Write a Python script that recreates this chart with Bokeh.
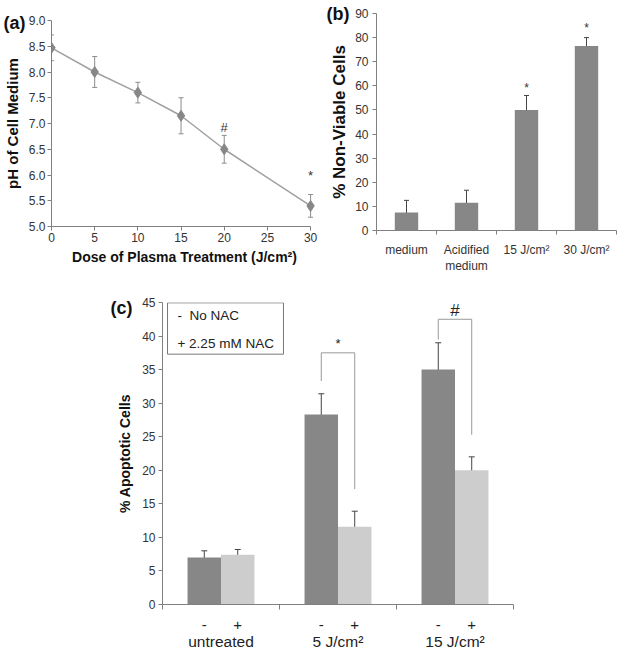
from bokeh.plotting import figure
from bokeh.layouts import column, row
from bokeh.models import (Range1d, FixedTicker, Whisker, ColumnDataSource, Label, Title,
                          BoxAnnotation, LinearAxis, TeeHead, NumeralTickFormatter)
from bokeh.embed import file_html
from bokeh.resources import INLINE

FONT = "Liberation Sans"
DARK = "#878787"
LIGHT = "#cdcdcd"
AXIS = "#808080"
TXT = "#333333"

# ---------------- data ----------------
# (a) pH vs dose
dose = [0, 5, 10, 15, 20, 30]
ph = [8.47, 8.0, 7.6, 7.15, 6.5, 5.4]
ph_err = [0.25, 0.3, 0.2, 0.35, 0.27, 0.22]
ph_mark_x = [20, 30]
ph_mark_y = [6.92, 6.0]
ph_mark_txt = ["#", "*"]
a_xticks = [0, 5, 10, 15, 20, 25, 30]
a_yticks = [5.0, 5.5, 6.0, 6.5, 7.0, 7.5, 8.0, 8.5, 9.0]

# (b) non-viable cells
b_cats = ["medium", "Acidified\nmedium", "15 J/cm²", "30 J/cm²"]
b_vals = [7.5, 11.5, 50.0, 76.5]
b_err = [5.0, 5.2, 6.0, 3.5]
b_mark_idx = [2, 3]
b_mark_y = [58.9, 83.8]
b_yticks = [0, 10, 20, 30, 40, 50, 60, 70, 80, 90]

# (c) apoptotic cells
c_groups = ["untreated", "5 J/cm²", "15 J/cm²"]
c_no_nac = [7.0, 28.3, 35.0]
c_no_nac_err = [1.0, 3.1, 4.0]
c_nac = [7.4, 11.6, 20.0]
c_nac_err = [0.8, 2.3, 2.0]
c_sig_idx = [1, 2]
c_sig_txt = ["*", "#"]
c_sig_txt_y = [38.9, 43.8]
c_br_top = [37.5, 42.5]
c_br_left_low = [33.3, 39.5]
c_br_right_low = [17.2, 25.3]
c_yticks = [0, 5, 10, 15, 20, 25, 30, 35, 40, 45]
c_legend = ["- \u00a0No NAC", "+ 2.25 mM NAC"]


def style(p):
    p.toolbar_location = None
    p.outline_line_color = None
    p.xgrid.grid_line_color = None
    p.ygrid.grid_line_color = None
    p.background_fill_color = "white"
    p.border_fill_color = "white"
    for ax in p.xaxis + p.yaxis:
        ax.axis_line_color = AXIS
        ax.major_tick_line_color = AXIS
        ax.minor_tick_line_color = AXIS
        ax.major_tick_in = 0
        ax.major_tick_out = 4
        ax.minor_tick_in = 0
        ax.minor_tick_out = 0
        ax.major_label_text_font = FONT
        ax.major_label_text_color = TXT
        ax.major_label_text_font_size = "12px"
        ax.axis_label_text_font = FONT
        ax.axis_label_text_font_style = "bold"
        ax.axis_label_text_color = "#111111"


def letter_title(txt, offset, standoff):
    return Title(text=txt, align="left", offset=offset, standoff=standoff,
                 text_font=FONT, text_font_style="bold", text_font_size="18px",
                 text_color="#111111")


# ---------------- panel (a) ----------------
pa = figure(width=320, height=290, output_backend="svg", toolbar_location=None,
            x_range=Range1d(0, 30.8), y_range=Range1d(5.0, 9.0),
            min_border_left=51, min_border_right=3, min_border_top=20, min_border_bottom=64)
style(pa)
pa.title = letter_title("(a)", -48, -25)
pa.xaxis.ticker = FixedTicker(ticks=a_xticks)
pa.xaxis.bounds = (0, 30)
pa.xaxis.major_label_standoff = 2
pa.yaxis.ticker = FixedTicker(ticks=a_yticks)
pa.yaxis.formatter = NumeralTickFormatter(format="0.0")
pa.yaxis.major_label_standoff = 2
pa.xaxis.axis_label = "Dose of Plasma Treatment (J/cm²)"
pa.yaxis.axis_label = "pH of Cell Medium"
pa.xaxis.axis_label_text_font_size = "14px"
pa.yaxis.axis_label_text_font_size = "15px"
pa.xaxis.axis_label_standoff = 4
pa.yaxis.axis_label_standoff = 5

src_a = ColumnDataSource(dict(x=dose, y=ph,
                              lo=[v - e for v, e in zip(ph, ph_err)],
                              hi=[v + e for v, e in zip(ph, ph_err)]))
pa.add_layout(Whisker(source=src_a, base="x", upper="hi", lower="lo", line_color="#8c8c8c",
                      upper_head=TeeHead(size=5, line_color="#8c8c8c"),
                      lower_head=TeeHead(size=5, line_color="#8c8c8c")))
pa.line("x", "y", source=src_a, line_color="#a0a0a0", line_width=1.5)
pa.scatter("x", "y", source=src_a, marker="diamond", size=11, fill_color=DARK, line_color=DARK)
for mx, my, mt in zip(ph_mark_x, ph_mark_y, ph_mark_txt):
    pa.add_layout(Label(x=mx, y=my, text=mt, text_font=FONT, text_font_size="13px",
                        text_align="center", text_baseline="middle", text_color="#333333"))

# ---------------- panel (b) ----------------
pb = figure(width=301, height=290, output_backend="svg", toolbar_location=None,
            x_range=Range1d(0, 4), y_range=Range1d(0, 90),
            min_border_left=56, min_border_right=5, min_border_top=13, min_border_bottom=60)
style(pb)
pb.title = letter_title("(b)", -50, -21)
bx = [i + 0.5 for i in range(len(b_cats))]
pb.xaxis.ticker = FixedTicker(ticks=bx, minor_ticks=[0, 1, 2, 3, 4])
pb.xaxis.major_label_overrides = {x: c for x, c in zip(bx, b_cats)}
pb.xaxis.major_tick_out = 0
pb.xaxis.minor_tick_out = 4
pb.xaxis.major_label_standoff = 8
pb.yaxis.ticker = FixedTicker(ticks=b_yticks)
pb.yaxis.major_label_standoff = 4
pb.yaxis.axis_label = "% Non-Viable Cells"
pb.yaxis.axis_label_text_font_size = "17px"
pb.yaxis.axis_label_standoff = 3

src_b = ColumnDataSource(dict(x=bx, y=b_vals,
                              lo=[v - e for v, e in zip(b_vals, b_err)],
                              hi=[v + e for v, e in zip(b_vals, b_err)]))
pb.vbar(x="x", top="y", width=0.39, source=src_b, fill_color=DARK, line_color=None)
pb.add_layout(Whisker(source=src_b, base="x", upper="hi", lower="lo", line_color="#444444",
                      upper_head=TeeHead(size=5, line_color="#444444"),
                      lower_head=TeeHead(size=5, line_color="#444444")))
for i, my in zip(b_mark_idx, b_mark_y):
    pb.add_layout(Label(x=bx[i], y=my, text="*", text_font=FONT, text_font_size="12px",
                        text_align="center", text_baseline="middle", text_color="#333333"))

# ---------------- panel (c) ----------------
pc = figure(width=543, height=362, output_backend="svg", toolbar_location=None,
            x_range=Range1d(0, 3), y_range=Range1d(0, 45),
            min_border_left=162, min_border_right=30, min_border_top=12, min_border_bottom=46)
style(pc)
pc.title = letter_title("(c)", -52, -31)
gx = [i + 0.5 for i in range(len(c_groups))]
dx = [g - 0.143 for g in gx]
lx = [g + 0.143 for g in gx]
pc.xaxis.ticker = FixedTicker(ticks=dx + lx, minor_ticks=[0, 1, 2, 3])
pc.xaxis.major_label_overrides = {**{x: "-" for x in dx}, **{x: "+" for x in lx}}
pc.xaxis.major_tick_out = 0
pc.xaxis.minor_tick_out = 5
pc.xaxis.major_label_standoff = 10
pc.xaxis.major_label_text_font_size = "15px"
pc.xaxis.major_label_text_color = "#222222"
pc.yaxis.ticker = FixedTicker(ticks=c_yticks)
pc.yaxis.major_label_standoff = 3
pc.yaxis.axis_label = "% Apoptotic Cells"
pc.yaxis.axis_label_text_font_size = "14px"
pc.yaxis.axis_label_standoff = 6

gax = LinearAxis(ticker=FixedTicker(ticks=gx),
                 major_label_overrides={x: g for x, g in zip(gx, c_groups)},
                 axis_line_color=None, major_tick_line_color=None, minor_tick_line_color=None,
                 major_tick_out=0, major_tick_in=0, minor_tick_out=0, minor_tick_in=0,
                 major_label_text_font=FONT, major_label_text_font_size="15.5px",
                 major_label_text_color="#222222", major_label_standoff=0)
pc.add_layout(gax, "below")

src_d = ColumnDataSource(dict(x=dx, y=c_no_nac,
                              lo=[v - e for v, e in zip(c_no_nac, c_no_nac_err)],
                              hi=[v + e for v, e in zip(c_no_nac, c_no_nac_err)]))
src_l = ColumnDataSource(dict(x=lx, y=c_nac,
                              lo=[v - e for v, e in zip(c_nac, c_nac_err)],
                              hi=[v + e for v, e in zip(c_nac, c_nac_err)]))
pc.vbar(x="x", top="y", width=0.286, source=src_d, fill_color=DARK, line_color=None)
pc.vbar(x="x", top="y", width=0.286, source=src_l, fill_color=LIGHT, line_color=None)
for s in (src_d, src_l):
    pc.add_layout(Whisker(source=s, base="x", upper="hi", lower="lo", line_color="#444444",
                          upper_head=TeeHead(size=6, line_color="#444444"),
                          lower_head=TeeHead(size=6, line_color="#444444")))

# significance brackets
bxs, bys = [], []
for i, top, ll, rl in zip(c_sig_idx, c_br_top, c_br_left_low, c_br_right_low):
    bxs.append([dx[i], dx[i], lx[i], lx[i]])
    bys.append([ll, top, top, rl])
pc.multi_line(bxs, bys, line_color="#999999", line_width=1)
for i, t, ty in zip(c_sig_idx, c_sig_txt, c_sig_txt_y):
    pc.add_layout(Label(x=gx[i], y=ty, text=t, text_font=FONT,
                        text_font_size="13px" if t == "*" else "17px",
                        text_align="center", text_baseline="middle", text_color="#222222"))

# legend box
pc.add_layout(BoxAnnotation(left=0.043, right=1.034, top=44.95, bottom=37.3,
                            fill_color="white", fill_alpha=1.0,
                            line_color="#777777", line_width=1, line_alpha=1.0))
for t, yy in zip(c_legend, [43.08, 38.93]):
    pc.add_layout(Label(x=0.128, y=yy, text=t, text_font=FONT, text_font_size="13.5px",
                        text_align="left", text_baseline="middle", text_color="#222222"))

layout = column(row(column(pa), column(pb)), pc)
open("out.html", "w").write(file_html(layout, INLINE))
